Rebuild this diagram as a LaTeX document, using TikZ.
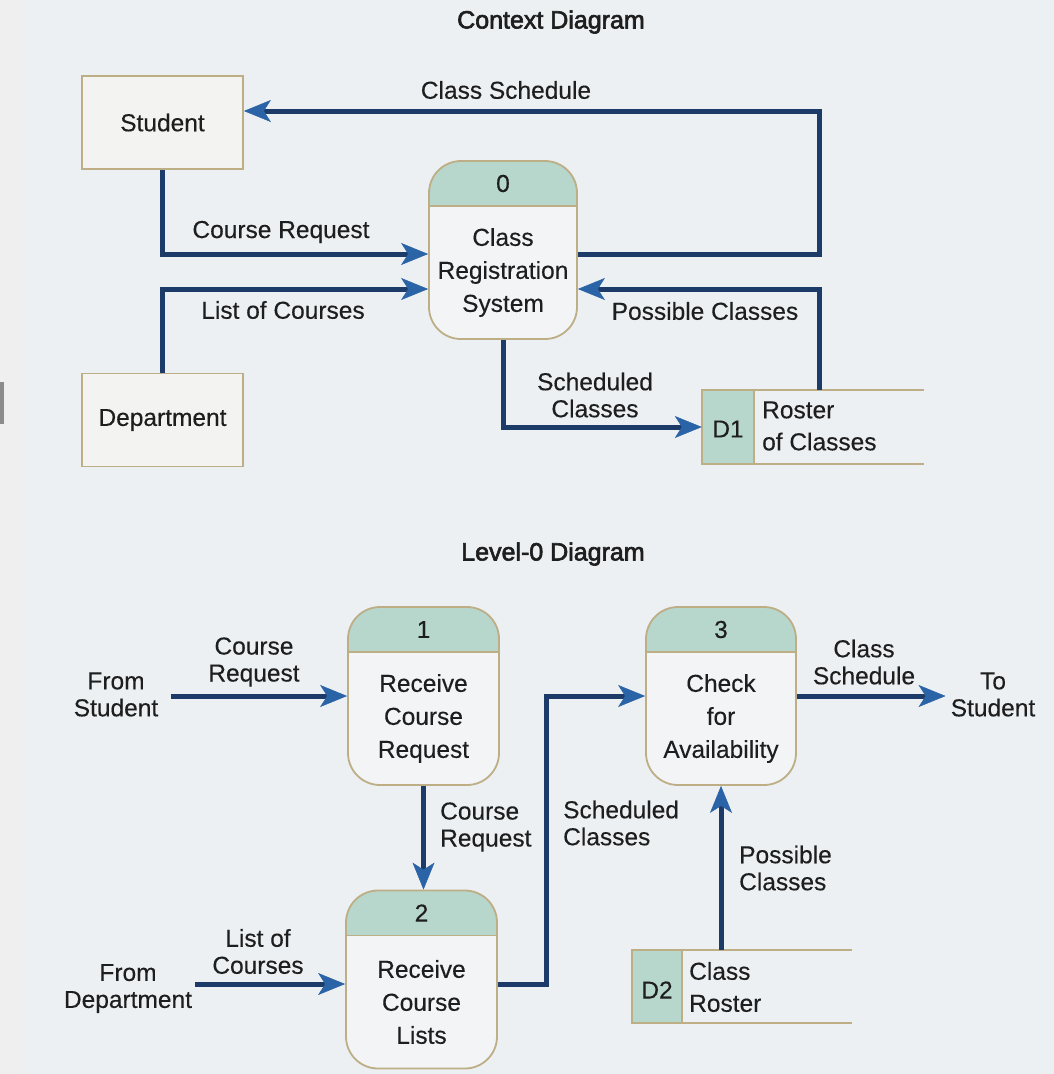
\documentclass[tikz,border=0pt]{standalone}
\usepackage{fontspec}
\setmainfont{Liberation Sans}[FakeBold=0.25]
\newfontfamily\titlefont{Liberation Sans}[FakeBold=2.5]
\usetikzlibrary{arrows.meta}
\definecolor{bg}{HTML}{ECF0F3}
\definecolor{strip}{HTML}{EFEFEF}
\definecolor{navy}{HTML}{1D3B68}
\definecolor{tipblue}{HTML}{2A63A6}
\definecolor{khaki}{HTML}{BDAE86}
\definecolor{hdrteal}{HTML}{B7D6CC}
\definecolor{bodyfill}{HTML}{F2F4F5}
\definecolor{entfill}{HTML}{F3F4F2}
\definecolor{ink}{HTML}{1E1E1E}
\newcommand\dfdproc[5]{%
  \node[proc, minimum width=#3pt] (#1) at (#2) {};
  \node[lbl] (#1n) at ([yshift=66.5pt]#1.center) {#4};
  \node[lbl, font=\fontsize{24.5}{33}\selectfont] (#1t) at ([yshift=-22.5pt]#1.center) {#5};
}
\begin{document}
\begin{tikzpicture}[x=1pt,y=-1pt, font=\fontsize{24.5}{27}\selectfont, text=ink,
  flow/.style={draw=navy, line width=5pt, -{Stealth[length=27pt,width=22pt,inset=7pt,color=tipblue,line width=0.5pt]}},
  ent/.style={draw=khaki, line width=1.8pt, fill=entfill, minimum width=161pt, minimum height=93pt, inner sep=0pt},
  proc/.style={draw=khaki, line width=1.8pt, fill=bodyfill, rounded corners=32pt, inner sep=0pt, minimum height=178pt,
    path picture={\fill[hdrteal, sharp corners] (path picture bounding box.north west) rectangle ([yshift=-45pt]path picture bounding box.north east);
      \draw[khaki, line width=1.8pt, sharp corners] ([yshift=-45pt]path picture bounding box.north west) -- ([yshift=-45pt]path picture bounding box.north east);}},
  lbl/.style={align=center, inner sep=0pt},
  lbll/.style={align=left, inner sep=0pt, anchor=west},
  store/.style={draw=khaki, line width=1.8pt},
]
% background
\fill[bg] (0,0) rectangle (1054,1074);
\fill[strip] (0,0) rectangle (22,1074);
\fill[black!45] (0,382) rectangle (4,424);
\useasboundingbox (0,0) rectangle (1054,1074);

% ================= Context Diagram =================
\node[lbl, font=\titlefont\fontsize{25}{28}\selectfont] (t1) at (551,22) {Context Diagram};

\node[ent] (st) at (162.5,122.5) {Student};
\node[ent] (dp) at (162.5,420) {Department};
\dfdproc{p0}{503,250}{148}{0}{Class\\Registration\\System}

% D1 store
\node[inner sep=0pt, minimum width=222pt, minimum height=74pt] (d1) at (813,427) {};
\fill[hdrteal] (d1.north west) rectangle ([xshift=52pt]d1.south west);
\draw[store] (d1.north east) -- (d1.north west) -- (d1.south west) -- (d1.south east);
\draw[store] ([xshift=52pt]d1.north west) -- ([xshift=52pt]d1.south west);
\node[lbl] (d1id) at (728,429) {D1};
\node[lbll, font=\fontsize{24.5}{32}\selectfont] (d1t) at (762,426) {Roster\\of Classes};

\coordinate (k1) at (819,254);
\coordinate (k2) at (819,111);
\draw[flow] ([yshift=-4pt]p0.east) -- (k1) -- (k2) -- (k2 -| st.east);
\draw[flow] (st.south) |- ([yshift=-4pt]p0.west);
\draw[flow] (dp.north) |- ([yshift=-39pt]p0.west);
\draw[flow] ([xshift=6pt]d1.north) |- ([yshift=-39pt]p0.east);
\draw[flow] (p0.south) |- (d1.west);

\node[lbl] (l1) at (506,90) {Class Schedule};
\node[lbl] (l2) at (281,232) {Course Request};
\node[lbl] (l3) at (283,310) {List of Courses};
\node[lbl] (l4) at (705,311) {Possible Classes};
\node[lbl] (l5) at (595,395) {Scheduled\\Classes};

% ================= Level-0 Diagram =================
\node[lbl, font=\titlefont\fontsize{25}{28}\selectfont] (t2) at (553,554) {Level-0 Diagram};

\dfdproc{p1}{423.5,696}{151}{1}{Receive\\Course\\Request}
\dfdproc{p3}{721,696}{150}{3}{Check\\for\\Availability}
\dfdproc{p2}{421.5,979.5}{151}{2}{Receive\\Course\\Lists}

% D2 store
\node[inner sep=0pt, minimum width=220pt, minimum height=73pt] (d2) at (742,986.5) {};
\fill[hdrteal] (d2.north west) rectangle ([xshift=50pt]d2.south west);
\draw[store] (d2.north east) -- (d2.north west) -- (d2.south west) -- (d2.south east);
\draw[store] ([xshift=50pt]d2.north west) -- ([xshift=50pt]d2.south west);
\node[lbl] (d2id) at (657,990) {D2};
\node[lbll, font=\fontsize{24.5}{32}\selectfont] (d2t) at (689,987) {Class\\Roster};

\node[lbl] (fs) at (116,694.5) {From\\Student};
\node[lbl] (ts) at (993,694.5) {To\\Student};
\node[lbl] (fd) at (128,988.5) {From\\Department};

\coordinate (k3) at (546,840);
\draw[flow, shorten <=13pt] (fs.east |- p1.west) -- (p1.west);
\draw[flow, shorten >=5pt] (p3.east) -- (ts.west |- p3.east);
\draw[flow] (p1.south) -- (p1.south |- p2.north);
\draw[flow] ([yshift=-4.5pt]p2.east) -| (k3) |- (p3.west);
\draw[flow] (p3.south |- d2.north) -- (p3.south);
\draw[flow, shorten <=3pt] (fd.east |- 0,984) -- (p2.west |- 0,984);

\node[lbl] (m1) at (254,662) {Course\\Request};
\node[lbl] (m2) at (864,662) {Class\\Schedule};
\node[lbll] (m3) at (440,827) {Course\\Request};
\node[lbll] (m4) at (563,823) {Scheduled\\Classes};
\node[lbll] (m5) at (739,868) {Possible\\Classes};
\node[lbl] (m6) at (258,951.5) {List of\\Courses};
\end{tikzpicture}
\end{document}
